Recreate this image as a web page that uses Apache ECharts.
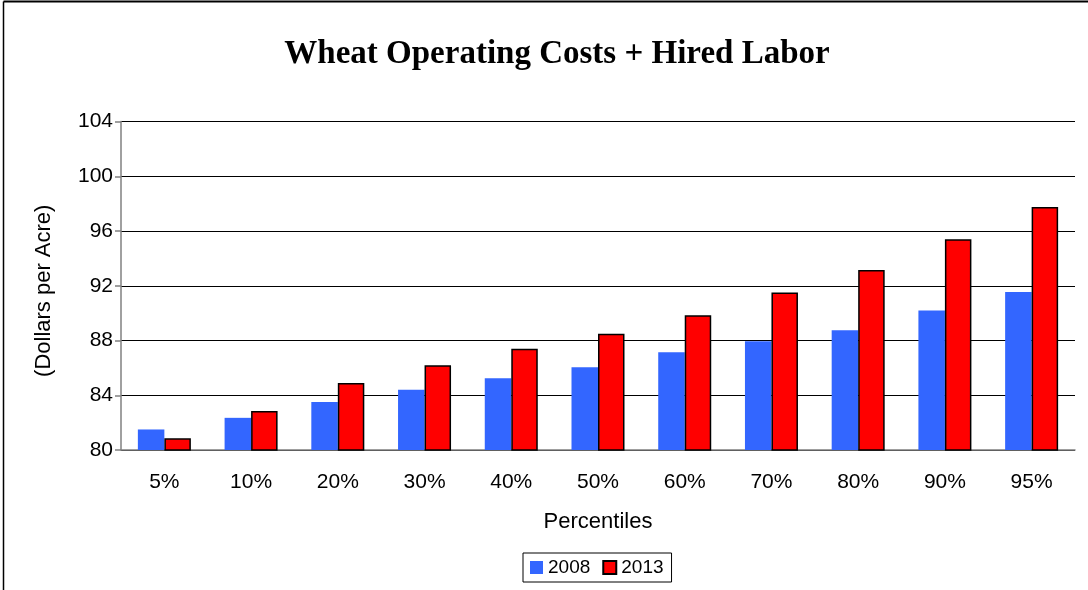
<!DOCTYPE html>
<html>
<head>
<meta charset="utf-8">
<script src="https://cdn.jsdelivr.net/npm/echarts@6/dist/echarts.min.js"></script>
<style>
  html, body { margin: 0; padding: 0; background: #fff; }
  #chart { width: 1088px; height: 590px; }
</style>
</head>
<body>
<div id="chart"></div>
<script>
// data
const percentiles = ['5%', '10%', '20%', '30%', '40%', '50%', '60%', '70%', '80%', '90%', '95%'];
const cost2008 = [81.5, 82.35, 83.5, 84.4, 85.25, 86.05, 87.15, 87.95, 88.75, 90.2, 91.55];
const cost2013 = [80.85, 82.85, 84.9, 86.2, 87.4, 88.5, 89.85, 91.5, 93.15, 95.4, 97.75];
const yTicks = { min: 80, max: 104, step: 4 };

const chart = echarts.init(document.getElementById('chart'));

const option = {
  animation: false,
  backgroundColor: '#fff',
  // outer frame of the original picture (top and left edges only visible)
  graphic: [
    { type: 'line', shape: { x1: 3.5, y1: 1.5, x2: 1088, y2: 1.5 }, style: { stroke: '#000', lineWidth: 2 } },
    { type: 'line', shape: { x1: 3.5, y1: 1.5, x2: 3.5, y2: 590 }, style: { stroke: '#000', lineWidth: 1.5 } }
  ],
  title: {
    text: 'Wheat Operating Costs + Hired Labor',
    left: 552,
    textAlign: 'center',
    top: 33,
    textStyle: { fontFamily: 'Liberation Serif', fontWeight: 'bold', fontSize: 33, color: '#000' }
  },
  legend: {
    data: ['2008', '2013'],
    left: 523,
    top: 553,
    padding: [5, 8, 5, 7],
    itemWidth: 13,
    itemHeight: 13,
    itemGap: 12,
    icon: 'rect',
    borderColor: '#000',
    borderWidth: 1,
    textStyle: { fontFamily: 'Liberation Sans', fontSize: 19, color: '#000' }
  },
  grid: { left: 121, right: 13, top: 121.5, bottom: 140 },
  xAxis: {
    type: 'category',
    data: percentiles,
    name: 'Percentiles',
    nameLocation: 'middle',
    nameGap: 61,
    nameTextStyle: { fontFamily: 'Liberation Sans', fontSize: 22, color: '#000' },
    axisLine: { lineStyle: { color: '#808080', width: 1.5 } },
    axisTick: { length: 6, lineStyle: { color: '#808080', width: 1.5 } },
    axisLabel: { fontFamily: 'Liberation Sans', fontSize: 21, color: '#000', margin: 22 }
  },
  yAxis: {
    type: 'value',
    min: yTicks.min,
    max: yTicks.max,
    interval: yTicks.step,
    name: '(Dollars per Acre)',
    nameLocation: 'middle',
    nameGap: 66,
    nameRotate: 90,
    nameTextStyle: { fontFamily: 'Liberation Sans', fontSize: 22, color: '#000', padding: [0, 10, 0, 0] },
    axisLine: { show: true, lineStyle: { color: '#808080', width: 1.5 } },
    axisTick: { show: true, length: 6, lineStyle: { color: '#808080', width: 1.5 } },
    axisLabel: { fontFamily: 'Liberation Sans', fontSize: 21, color: '#000', margin: 8 },
    splitLine: { lineStyle: { color: '#000', width: 1 } }
  },
  series: [
    {
      name: '2008',
      type: 'bar',
      data: cost2008,
      barWidth: 26.5,
      barGap: '0%',
      itemStyle: { color: '#3366FF' }
    },
    {
      name: '2013',
      type: 'bar',
      data: cost2013,
      barWidth: 26.5,
      itemStyle: { color: '#FF0000', borderColor: '#000', borderWidth: 1.5 }
    }
  ]
};

chart.setOption(option);
</script>
</body>
</html>
